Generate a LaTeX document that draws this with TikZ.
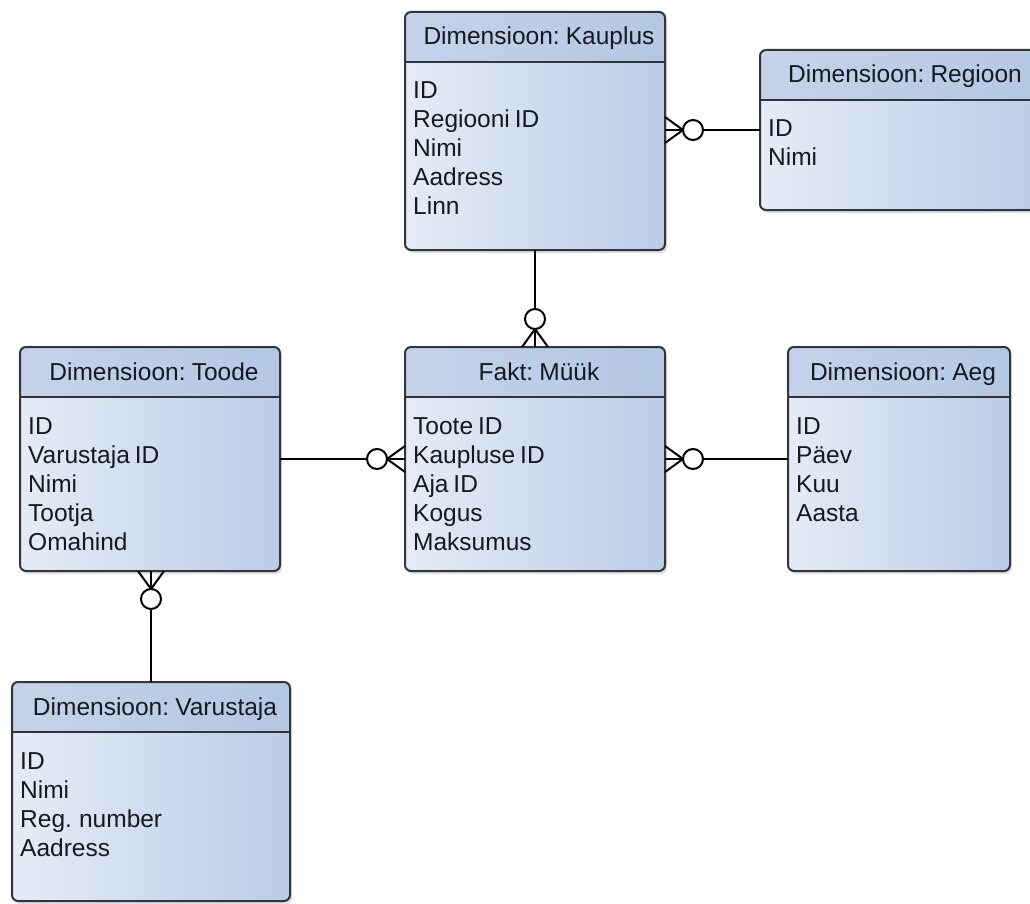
\documentclass[tikz,border=0pt]{standalone}
\usepackage{fontspec}
\setmainfont{Liberation Sans}
\usetikzlibrary{calc}

\definecolor{edgecol}{RGB}{50,52,58}
\definecolor{inkcol}{RGB}{22,24,34}
\definecolor{headA}{RGB}{196,211,234}
\definecolor{headB}{RGB}{180,199,227}
\definecolor{bodyA}{RGB}{229,236,246}
\definecolor{bodyB}{RGB}{186,204,231}

\tikzset{
  entity/.style={rectangle, inner sep=0pt, outer sep=0pt, rounded corners=6pt,
    shading=axis, left color=bodyA, right color=bodyB},
  headfill/.style={shading=axis, left color=headA, right color=headB},
  edge/.style={draw=edgecol, line width=2pt},
  boxshadow/.style={fill=black, opacity=0.12, rounded corners=6pt},
  titletext/.style={inner sep=0pt, text=inkcol, font=\fontsize{24.5}{29}\selectfont},
  rowtext/.style={inner sep=0pt, text=inkcol, font=\fontsize{24.5}{29}\selectfont},
  conn/.style={draw=black, line width=2pt},
}

% table box: name, left, top, width, height, title, rows
\newcommand\erbox[7]{%
  \path[boxshadow] (#2+2,#3+3) rectangle ++(#4,#5);
  \node[entity, minimum width=#4pt, minimum height=#5pt, anchor=north west] (#1) at (#2,#3) {};
  \begin{scope}
    \clip[rounded corners=6pt] (#1.north west) rectangle (#1.south east);
    \shade[headfill] (#1.north west) rectangle ([yshift=-50pt]#1.north east);
  \end{scope}
  \draw[edge] ([yshift=-50pt]#1.north west) -- ([yshift=-50pt]#1.north east);
  \draw[edge, rounded corners=6pt] (#1.north west) rectangle (#1.south east);
  \node[titletext, anchor=base] (#1-title) at ([xshift=4pt, yshift=-33pt]#1.north)
    {\spaceskip=0.16em\relax #6};
  \node[rowtext, anchor=base west] (#1-rows) at ([xshift=8pt, yshift=-87pt]#1.north west)
    {\spaceskip=0.2em\relax\begin{tabular}[t]{@{}l@{}}#7\end{tabular}};
}

% zero-or-many link: crow's foot and circle at the first end
\newcommand\crowlink[2]{%
  \draw[conn] (#1) -- (#2);
  \draw[conn] ($(#1)!13pt!90:(#2)$) -- ($(#1)!18pt!(#2)$) -- ($(#1)!13pt!-90:(#2)$);
  \draw[conn, fill=white] ($(#1)!28pt!(#2)$) circle[radius=10pt];
}

\begin{document}
\begin{tikzpicture}[x=1pt, y=-1pt]
  \useasboundingbox (0,0) rectangle (1030,904);
  \clip (0,0) rectangle (1030,904);
  \fill[white] (0,0) rectangle (1030,904);

  \erbox{kauplus}{405}{12}{260}{238}{Dimensioon: Kauplus}
    {ID\\Regiooni ID\\Nimi\\Aadress\\Linn}
  \erbox{regioon}{760}{50}{282}{160}{Dimensioon: Regioon}
    {ID\\Nimi}
  \erbox{toode}{20}{347}{260}{224}{Dimensioon: Toode}
    {ID\\Varustaja ID\\Nimi\\Tootja\\Omahind}
  \erbox{fakt}{405}{347}{260}{224}{Fakt: Müük}
    {Toote ID\\Kaupluse ID\\Aja ID\\Kogus\\Maksumus}
  \erbox{aeg}{788}{347}{222}{224}{Dimensioon: Aeg}
    {ID\\Päev\\Kuu\\Aasta}
  \erbox{varustaja}{12}{682}{278}{219}{Dimensioon: Varustaja}
    {ID\\Nimi\\Reg. number\\Aadress}

  \coordinate (kr) at (kauplus.east |- regioon.west);
  \coordinate (tv) at (toode.south -| varustaja.north);

  \crowlink{kr}{regioon.west}
  \crowlink{fakt.north}{kauplus.south}
  \crowlink{fakt.west}{toode.east}
  \crowlink{fakt.east}{aeg.west}
  \crowlink{tv}{varustaja.north}
\end{tikzpicture}
\end{document}
